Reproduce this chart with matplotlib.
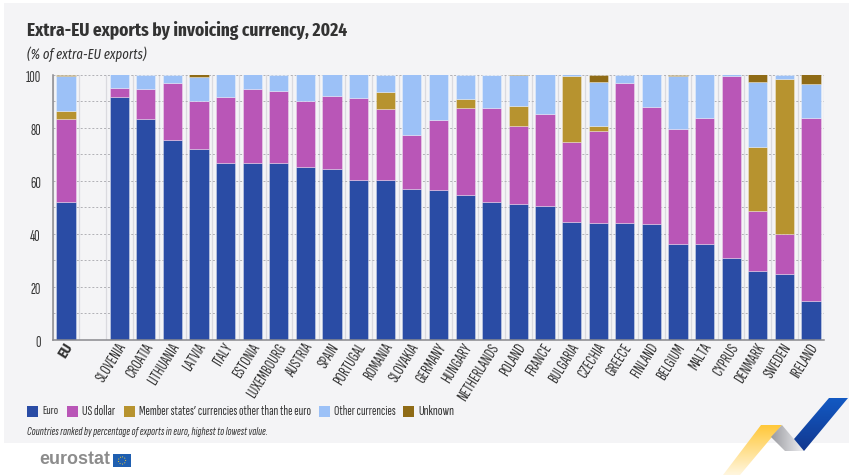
import numpy as np
import matplotlib
matplotlib.use("Agg")
import matplotlib.pyplot as plt
from matplotlib.patches import Polygon, Rectangle
from matplotlib.colors import LinearSegmentedColormap
from matplotlib import font_manager as fm
from matplotlib.transforms import ScaledTranslation

W, H = 850, 475
names = {f.name for f in fm.fontManager.ttflist}
def pick(options):
    return next((n for n in options if n in names), "DejaVu Sans")
NARROW = pick(["Fira Sans Extra Condensed", "Fira Sans Condensed", "Roboto Condensed", "Roboto"])
TIGHT = pick(["Sofia Sans Extra Condensed", "Pragati Narrow", "Fira Sans Extra Condensed", "Roboto"])
plt.rcParams["font.family"] = [NARROW, "DejaVu Sans"]
TIGHT_FAM = [TIGHT, "DejaVu Sans"]

countries = ["EU", "", "SLOVENIA", "CROATIA", "LITHUANIA", "LATVIA", "ITALY", "ESTONIA",
             "LUXEMBOURG", "AUSTRIA", "SPAIN", "PORTUGAL", "ROMANIA", "SLOVAKIA", "GERMANY",
             "HUNGARY", "NETHERLANDS", "POLAND", "FRANCE", "BULGARIA", "CZECHIA", "GREECE",
             "FINLAND", "BELGIUM", "MALTA", "CYPRUS", "DENMARK", "SWEDEN", "IRELAND"]
euro = [52.0, 0, 91.4, 83.1, 75.2, 71.8, 66.7, 66.5, 66.5, 65.0, 64.2, 60.3, 60.2, 56.9, 56.3,
        54.7, 51.8, 51.2, 50.4, 44.3, 44.1, 43.9, 43.5, 36.0, 36.0, 30.7, 26.0, 24.7, 14.5]
usd = [31.1, 0, 3.4, 11.4, 21.5, 18.1, 24.9, 28.2, 27.3, 25.1, 27.7, 30.7, 26.9, 20.4, 26.5,
       32.5, 35.4, 29.5, 34.7, 30.1, 34.5, 52.8, 44.4, 43.6, 47.6, 68.8, 22.7, 15.0, 69.0]
member = [3.1, 0, 0, 0, 0, 0, 0, 0, 0, 0, 0, 0, 6.3, 0, 0,
          3.7, 0, 7.3, 0, 25.0, 2.0, 0, 0, 0, 0, 0, 24.1, 58.5, 0]
other = [13.3, 0, 5.2, 5.5, 3.3, 9.1, 8.4, 5.3, 6.2, 9.9, 8.1, 9.0, 6.6, 22.7, 17.2,
         9.1, 12.6, 11.9, 14.9, 0.6, 16.6, 3.3, 12.1, 19.7, 16.4, 0.5, 24.4, 1.8, 12.9]
unknown = [0.5, 0, 0, 0, 0, 1.0, 0, 0, 0, 0, 0, 0, 0, 0, 0,
           0, 0.2, 0.1, 0, 0, 2.8, 0, 0, 0.7, 0, 0, 2.8, 0, 3.6]
series = ["Euro", "US dollar", "Member states\u2019 currencies other than the euro",
          "Other currencies", "Unknown"]
colors = ["#2A4CA5", "#B956B7", "#B7932F", "#9CC1F7", "#8F6B16"]
yticks = [0, 20, 40, 60, 80, 100]

fig = plt.figure(figsize=(W / 100, H / 100), dpi=100, facecolor="white")
renderer = fig.canvas.get_renderer()

def fit(t, target):
    """Scale a text so that its unrotated width matches target pixels."""
    w = t.get_window_extent(renderer).width
    t.set_fontsize(t.get_fontsize() * target / w)
    return t

bg = fig.add_axes([0, 0, 1, 1], zorder=0)
bg.set_xlim(0, W); bg.set_ylim(H, 0); bg.axis("off")
bg.add_patch(Rectangle((4, 3), 845, 440, fc="#F4F4F6", ec="none"))

ax = fig.add_axes([52.7 / W, 1 - 339.7 / H, (824.3 - 52.7) / W, (339.7 - 74.5) / H], zorder=2)
ax.patch.set_alpha(0)
x = np.arange(len(countries))
for v in np.arange(-0.5, 29):
    ax.axvline(v, color="#DADADF", lw=0.9, zorder=1)
for v in range(10, 101, 10):
    ax.axhline(v, color="#B0B0B5", lw=0.7, ls=(0, (2, 2)), zorder=1)
bottom = np.zeros(len(x))
for vals, c, lab in zip([euro, usd, member, other, unknown], colors, series):
    vals = np.array(vals)
    keep = vals > 0
    ax.bar(x[keep], vals[keep], 0.72, bottom=bottom[keep], color=c, zorder=3, label=lab,
           edgecolor=(1, 1, 1, 0.45), linewidth=0.5)
    bottom += vals
ax.set_xlim(-0.5, 28.5); ax.set_ylim(0, 100)
for s in ("top", "right"):
    ax.spines[s].set_visible(False)
for s in ("left", "bottom"):
    ax.spines[s].set_color("#8A8A8E"); ax.spines[s].set_linewidth(1.1); ax.spines[s].set_zorder(4)

probe = bg.text(0, 0, "100", fontsize=10, family=TIGHT_FAM)
fit(probe, 15)
ysize = probe.get_fontsize()
probe.set_text("LUXEMBOURG"); probe.set_fontsize(10)
fit(probe, 61)
xsize = probe.get_fontsize()
probe.remove()

ax.set_yticks(yticks)
ax.tick_params(axis="y", length=0, pad=8.5, labelcolor="#333333")
down = ScaledTranslation(0, -2 / 100, fig.dpi_scale_trans)
for lab in ax.get_yticklabels():
    lab.set_fontsize(ysize); lab.set_family(TIGHT_FAM)
    lab.set_transform(lab.get_transform() + down)
ax.set_xticks(x, countries)
ax.tick_params(axis="x", length=0, pad=1)
shift = ScaledTranslation(-2 / 100, 0, fig.dpi_scale_trans)
for lab, name in zip(ax.get_xticklabels(), countries):
    lab.set_rotation(58); lab.set_ha("right"); lab.set_rotation_mode("anchor")
    lab.set_fontsize(xsize); lab.set_color("#333333"); lab.set_family(TIGHT_FAM)
    lab.set_transform(lab.get_transform() + shift)
    if name == "EU":
        lab.set_family([NARROW, "DejaVu Sans"])
        lab.set_fontweight("bold")
        lab.set_fontsize(xsize * 0.95)

fit(bg.text(27, 30, "Extra-EU exports by invoicing currency, 2024", fontsize=15, fontweight="bold",
            color="#333333", va="center", ha="left"), 319)
fit(bg.text(27, 54, "(% of extra-EU exports)", fontsize=10, style="italic", color="#333333", va="center"), 119)

# legend row
swatch_x = [27, 67, 124, 319, 403]
label_w = [16, 33, 171.5, 61, 36]
for px, c, lab, tw in zip(swatch_x, colors, series, label_w):
    bg.add_patch(Rectangle((px, 406), 11, 11, fc=c, ec="none", zorder=3))
    fit(bg.text(px + 15, 411.5, lab, fontsize=10, color="#333333", va="center", zorder=3,
                family=TIGHT_FAM), tw)
fit(bg.text(27, 431.5, "Countries ranked by percentage of exports in euro, highest to lowest value.",
            fontsize=8.5, style="italic", color="#333333", va="center", zorder=3, family=TIGHT_FAM), 239)

# logo
fit(bg.text(39, 460, "eurostat", fontsize=14, fontweight="bold", color="#8C8C8C", va="center",
            family=["Liberation Sans", "DejaVu Sans"], zorder=3), 71)
bg.add_patch(Rectangle((113, 454), 18, 13, fc="#1F5FB0", ec="none", zorder=3))
bg.add_patch(plt.Circle((122, 460.5), 3.6, fc="none", ec="#E9C93C", lw=0.7, ls=":", zorder=4))

# ribbons
def grad(poly, c0, c1, vertical=True):
    cmap = LinearSegmentedColormap.from_list("g", [c0, c1])
    xs = [p[0] for p in poly]; ys = [p[1] for p in poly]
    data = np.linspace(0, 1, 64).reshape(-1, 1) if vertical else np.linspace(0, 1, 64).reshape(1, -1)
    im = bg.imshow(data, cmap=cmap, extent=[min(xs), max(xs), max(ys), min(ys)], aspect="auto", zorder=3)
    p = Polygon(poly, closed=True, transform=bg.transData, fc="none", ec="none")
    bg.add_patch(p)
    im.set_clip_path(p)

grad([(761, 425), (782, 425), (740, 475), (723, 475)], "#FFC83A", "#FFF6DE")
grad([(771, 437), (782, 425), (804, 451), (785, 451)], "#9A9BA0", "#EFEFF2", vertical=False)
grad([(794, 439), (829, 398), (848, 398), (804, 451)], "#1259C3", "#12388F")
bg.set_xlim(0, W); bg.set_ylim(H, 0)

fig.savefig("out.png", dpi=100, facecolor="white")
